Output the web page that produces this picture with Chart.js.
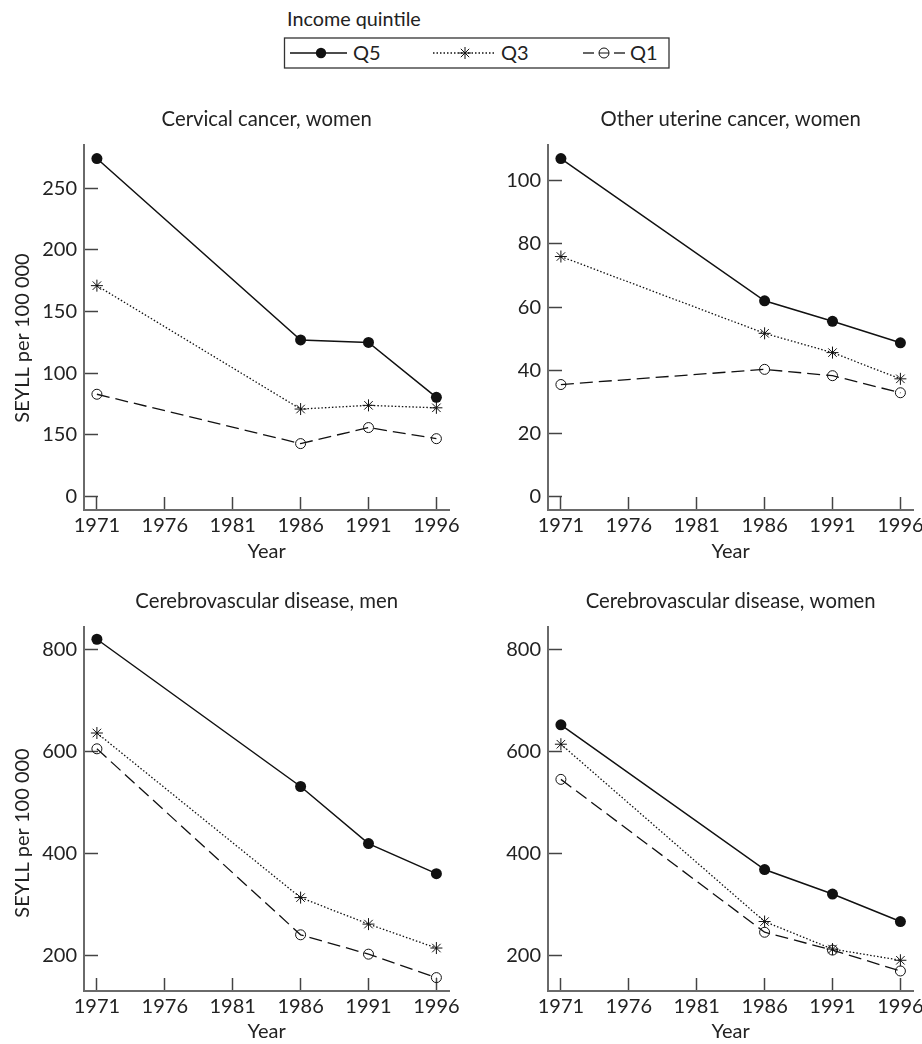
<!DOCTYPE html>
<html>
<head>
<meta charset="utf-8">
<script src="https://cdn.jsdelivr.net/npm/chart.js@4.4.1/dist/chart.umd.min.js"></script>
<style>
  html, body { margin: 0; padding: 0; background: #fff; }
  body { width: 922px; height: 1044px; position: relative; overflow: hidden; font-family: Lato, sans-serif; }
  canvas { position: absolute; }
  svg { position: absolute; left: 0; top: 0; }
</style>
</head>
<body>
<svg width="922" height="80" xmlns="http://www.w3.org/2000/svg">
  <text x="287" y="26" font-family="Lato" font-size="19.8" fill="#222">Income quintile</text>
  <rect x="284.5" y="38" width="384.5" height="30" fill="none" stroke="#333" stroke-width="1.3"/>
  <line x1="290" y1="53" x2="347" y2="53" stroke="#111" stroke-width="1.5"/>
  <circle cx="321" cy="53" r="5.2" fill="#111"/>
  <text x="353" y="60" font-family="Lato" font-size="20" fill="#222">Q5</text>
  <line x1="433" y1="53" x2="494" y2="53" stroke="#111" stroke-width="1.3" stroke-dasharray="1.5 2"/>
  <g stroke="#111" stroke-width="1">
    <line x1="459" y1="53" x2="471" y2="53"/>
    <line x1="465" y1="47" x2="465" y2="59"/>
    <line x1="460.8" y1="48.8" x2="469.2" y2="57.2"/>
    <line x1="460.8" y1="57.2" x2="469.2" y2="48.8"/>
  </g>
  <text x="501" y="60" font-family="Lato" font-size="20" fill="#222">Q3</text>
  <line x1="583" y1="53" x2="594" y2="53" stroke="#111" stroke-width="1.3"/>
  <line x1="614" y1="53" x2="625" y2="53" stroke="#111" stroke-width="1.3"/>
  <circle cx="604" cy="53" r="5" fill="none" stroke="#111" stroke-width="1"/>
  <line x1="599" y1="53" x2="609" y2="53" stroke="#111" stroke-width="1"/>
  <text x="630" y="60" font-family="Lato" font-size="20" fill="#222">Q1</text>
</svg>
<canvas id="c1" width="470" height="475" style="left:0px;top:90px"></canvas>
<canvas id="c2" width="458" height="475" style="left:464px;top:90px"></canvas>
<canvas id="c3" width="470" height="474" style="left:0px;top:570px"></canvas>
<canvas id="c4" width="458" height="474" style="left:464px;top:570px"></canvas>
<script>
// ---- data ----
const years = [1971, 1986, 1991, 1996];
const xTickValues = [1971, 1976, 1981, 1986, 1991, 1996];
const seriesNames = ["Q5", "Q3", "Q1"];

const cervicalQ5 = [274, 127, 125, 80.5];
const cervicalQ3 = [171, 71, 74, 72];
const cervicalQ1 = [83, 43, 56, 47];
const cervicalTicks = [0, 50, 100, 150, 200, 250];
const cervicalTickLabels = ["0", "150", "100", "150", "200", "250"];

const uterineQ5 = [107, 62, 55.5, 48.7];
const uterineQ3 = [76, 51.7, 45.6, 37.3];
const uterineQ1 = [35.5, 40.3, 38.3, 32.9];
const uterineTicks = [0, 20, 40, 60, 80, 100];
const uterineTickLabels = ["0", "20", "40", "60", "80", "100"];

const cvMenQ5 = [821, 532, 420, 361];
const cvMenQ3 = [637, 314, 262, 215];
const cvMenQ1 = [606, 241, 203, 157];
const cvWomenQ5 = [653, 369, 321, 267];
const cvWomenQ3 = [615, 267, 213, 191];
const cvWomenQ1 = [546, 246, 211, 170];
const cvTicks = [200, 400, 600, 800];
const cvTickLabels = ["200", "400", "600", "800"];

const titles = ["Cervical cancer, women", "Other uterine cancer, women", "Cerebrovascular disease, men", "Cerebrovascular disease, women"];
const xTitle = "Year";
const yTitle = "SEYLL per 100 000";

// ---- rendering ----
const FONT = "Lato, sans-serif";
const INK = "#111";

const yTitlePlugin = {
  id: 'yTitleCustom',
  afterDraw(chart, args, opts) {
    if (!opts || !opts.text) return;
    const ctx = chart.ctx;
    ctx.save();
    ctx.translate(opts.x, opts.y);
    ctx.rotate(-Math.PI / 2);
    ctx.textAlign = 'center';
    ctx.textBaseline = 'middle';
    ctx.fillStyle = '#222';
    ctx.font = "20px " + FONT;
    ctx.fillText(opts.text, 0, 0);
    ctx.restore();
  }
};

function toPoints(vals) { return vals.map((v, i) => ({ x: years[i], y: v })); }

function makeChart(id, cfg) {
  const datasets = [
    { label: seriesNames[0], data: toPoints(cfg.q5), borderColor: INK, backgroundColor: INK,
      borderWidth: 1.5, pointStyle: 'circle', pointRadius: 5.5, pointBackgroundColor: INK, pointBorderColor: INK, pointBorderWidth: 0 },
    { label: seriesNames[1], data: toPoints(cfg.q3), borderColor: INK, backgroundColor: INK,
      borderWidth: 1.3, borderDash: [1.5, 2], pointStyle: 'star', pointRadius: 6, pointBorderColor: INK, pointBorderWidth: 1 },
    { label: seriesNames[2], data: toPoints(cfg.q1), borderColor: INK, backgroundColor: 'rgba(0,0,0,0)',
      borderWidth: 1.3, borderDash: [13, 6], pointStyle: 'circle', pointRadius: 5, pointBackgroundColor: 'rgba(0,0,0,0)', pointBorderColor: INK, pointBorderWidth: 1 }
  ];
  return new Chart(document.getElementById(id), {
    type: 'line',
    data: { datasets },
    options: {
      responsive: false,
      animation: false,
      devicePixelRatio: 1,
      layout: { padding: { left: 0, right: cfg.padRight, top: 0, bottom: 0 } },
      plugins: {
        legend: { display: false },
        tooltip: { enabled: false },
        title: {
          display: true, text: cfg.title, fullSize: false, color: '#222',
          font: { family: FONT, size: 20.3, weight: 'normal', lineHeight: 1.2 },
          padding: { top: cfg.titleTop, bottom: cfg.titleBottom }
        },
        yTitleCustom: cfg.yTitle ? { text: yTitle, x: 23, y: cfg.yTitleY } : { text: null }
      },
      scales: {
        x: {
          type: 'linear', min: 1970.05, max: 1996.95,
          afterBuildTicks: s => { s.ticks = xTickValues.map(v => ({ value: v })); },
          afterFit: s => { s.height = cfg.xHeight; s.paddingLeft = 0; s.paddingRight = 0; },
          grid: { drawOnChartArea: false, drawTicks: true, tickLength: -13, tickColor: '#444', tickWidth: 1.5 },
          border: { display: true, color: '#6a6a6a', width: 2 },
          ticks: { color: '#222', padding: 17, font: { family: FONT, size: 20 }, callback: v => String(v), maxRotation: 0, autoSkip: false },
          title: { display: true, text: xTitle, color: '#222', font: { family: FONT, size: 20, lineHeight: 1.2 }, padding: { top: 0, bottom: cfg.xTitleBottom } }
        },
        y: {
          type: 'linear', min: cfg.yMin, max: cfg.yMax,
          afterBuildTicks: s => { s.ticks = cfg.ticks.map(v => ({ value: v })); },
          afterFit: s => { s.width = 84; s.paddingTop = 0; s.paddingBottom = 0; },
          grid: { drawOnChartArea: false, drawTicks: true, tickLength: -14, tickColor: '#444', tickWidth: 1.5 },
          border: { display: true, color: '#6a6a6a', width: 2 },
          ticks: { color: '#222', padding: 21, font: { family: FONT, size: 20 }, autoSkip: false,
            callback: (v, i) => cfg.tickLabels[i] }
        }
      }
    },
    plugins: [yTitlePlugin]
  });
}

makeChart('c1', { q5: cervicalQ5, q3: cervicalQ3, q1: cervicalQ1, title: titles[0], yMin: -10.8, yMax: 285,
  ticks: cervicalTicks, tickLabels: cervicalTickLabels, padRight: 20.7, titleTop: 16.8, titleBottom: 13.8, xHeight: 55, xTitleBottom: 1.0, yTitle: true, yTitleY: 248 });
makeChart('c2', { q5: uterineQ5, q3: uterineQ3, q1: uterineQ1, title: titles[1], yMin: -4.2, yMax: 111.3,
  ticks: uterineTicks, tickLabels: uterineTickLabels, padRight: 8.7, titleTop: 16.8, titleBottom: 13.8, xHeight: 55, xTitleBottom: 1.0, yTitle: false });
makeChart('c3', { q5: cvMenQ5, q3: cvMenQ3, q1: cvMenQ1, title: titles[2], yMin: 130.7, yMax: 845.7,
  ticks: cvTicks, tickLabels: cvTickLabels, padRight: 20.7, titleTop: 19.5, titleBottom: 12.8, xHeight: 53, xTitleBottom: 0, yTitle: true, yTitleY: 263 });
makeChart('c4', { q5: cvWomenQ5, q3: cvWomenQ3, q1: cvWomenQ1, title: titles[3], yMin: 130.7, yMax: 845.7,
  ticks: cvTicks, tickLabels: cvTickLabels, padRight: 8.7, titleTop: 19.5, titleBottom: 12.8, xHeight: 53, xTitleBottom: 0, yTitle: false });
</script>
</body>
</html>
